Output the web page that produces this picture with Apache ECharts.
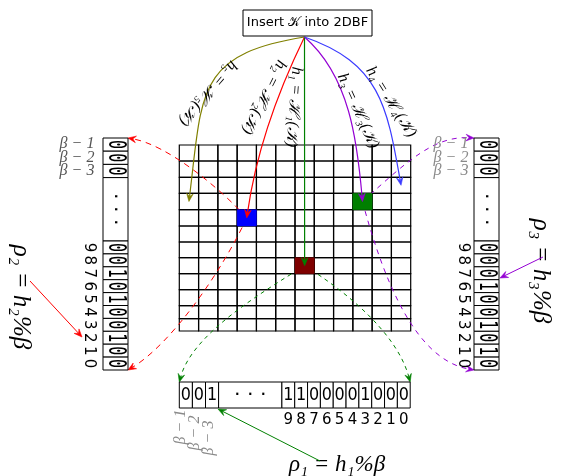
<!DOCTYPE html>
<html><head><meta charset="utf-8">
<script src="https://cdn.jsdelivr.net/npm/echarts@6.0.0/dist/echarts.min.js"></script>
<style>html,body{margin:0;padding:0;background:#fff;}#chart{width:561px;height:476px;}</style>
</head><body><div id="chart"></div>
<script>
// ---------------- DATA ----------------
const titleText = 'Insert 𝒦 into 2DBF';
const matrixCols = 12;
const matrixRows = 12;
const hashLabels = ['h₅ = ℋ₅(𝒦)', 'h₂ = ℋ₂(𝒦)', 'h₁ = ℋ₁(𝒦)', 'h₃ = ℋ₃(𝒦)', 'h₄ = ℋ₄(𝒦)'];
const hashTargetCells = [[0, 3], [3, 4], [6, 7], [9, 3], [11, 2]];   // [col,row]
const setCells = [[3, 4], [9, 3], [6, 7]];                              // [col,row]
const leftHeadBits = [0, 0, 0];
const leftBits = [0, 0, 1, 0, 1, 0, 0, 1, 0, 0];
const rightHeadBits = [0, 0, 0];
const rightBits = [0, 0, 0, 1, 0, 0, 1, 0, 1, 0];
const bottomHeadBits = [0, 0, 1];
const bottomBits = [1, 1, 0, 0, 0, 0, 1, 0, 0, 0];
const bitIndexLabels = ['9', '8', '7', '6', '5', '4', '3', '2', '1', '0'];
const betaLabels = ['β − 1', 'β − 2', 'β − 3'];
const rhoLabels = ['ρ₂ = h₂%β', 'ρ₃ = h₃%β', 'ρ₁ = h₁%β'];
const links = [[0, 'left', 0], [0, 'left', 1], [1, 'right', 0], [1, 'right', 1], [2, 'bottom', 0], [2, 'bottom', 1]];

// ---------------- STYLE ----------------
const hashColors = ['#808000', '#ff0000', '#008000', '#9400d3', '#3a3aff'];
const setCellColors = ['#0000ff', '#007f00', '#7f0000'];
const linkColors = ['#ff0000', '#ff0000', '#9400d3', '#9400d3', '#008000', '#008000'];
const linkDash = [[6, 5], [6, 5], [5, 5], [5, 5], [4, 4], [4, 4]];
const rhoColors = ['#ff0000', '#9400d3', '#008000'];
const SERIF = '"Liberation Serif","DejaVu Serif",serif';
const SANS = '"DejaVu Sans",sans-serif';
const MONO = '"DejaVu Sans Mono",monospace';

// ---------------- LAYOUT ----------------
const LAY = {
  box: [243, 10, 372, 36],
  src: [304.5, 37],
  mat: { x0: 179.3, x1: 410.7, rows: [145, 161, 177.3, 193.3, 209.7, 226, 242, 257.7, 273.7, 289.7, 305.7, 318.7, 331] },
  left: { x0: 103, x1: 128, y0: 138, head: 13.2, dots: 63.4, cell: 12.9, idxX: 89, betaX: 77 },
  right: { x0: 474, x1: 499, y0: 138, head: 13.2, dots: 63.4, cell: 12.9, idxX: 463, betaX: 451 },
  bottom: { x0: 179.3, y0: 382, y1: 408, head: 13.1, dots: 63.3, cell: 12.83, idxY: 420 },
  // [outAngle, outLen, inAngle, inLen]
  hash: [[171, 110, 97, 110], [116, 65, 98, 65], [90, 50, 90, 50], [41, 60, 85, 60], [19, 80, 80, 80]],
  hashLabel: [[208, 93, 130.7], [264, 97, 116.6], [294, 107, 94], [358, 111, 65.4], [391, 102, 57.5]],
  link: [[228, 40, 190, 40], [115, 60, 149, 50], [318, 60, 3, 40], [75, 80, 10, 60], [148, 50, 105, 50], [32, 50, 75, 50]],
  betaY: [144, 157.5, 171],
  betaBottom: [[181, 427], [195, 433], [209, 438]],
  rho: [[21, 297, -90, 25], [541, 271, -90, 25], [337, 465, 0, 23]],
  rhoArrow: [[[30, 281], [82, 337]], [[543, 257], [500, 278]], [[320, 461], [218, 409]]]
};

// ---------------- HELPERS ----------------
const colW = (LAY.mat.x1 - LAY.mat.x0) / matrixCols;
function cellCenter(c, r) {
  return [LAY.mat.x0 + (c + 0.5) * colW, (LAY.mat.rows[r] + LAY.mat.rows[r + 1]) / 2];
}
function vSlot(a, s) {
  if (s < 3) return [a.y0 + s * a.head, a.y0 + (s + 1) * a.head];
  if (s === 3) return [a.y0 + 3 * a.head, a.y0 + 3 * a.head + a.dots];
  const b = a.y0 + 3 * a.head + a.dots + (s - 4) * a.cell;
  return [b, b + a.cell];
}
function hSlot(a, s) {
  if (s < 3) return [a.x0 + s * a.head, a.x0 + (s + 1) * a.head];
  if (s === 3) return [a.x0 + 3 * a.head, a.x0 + 3 * a.head + a.dots];
  const b = a.x0 + 3 * a.head + a.dots + (s - 4) * a.cell;
  return [b, b + a.cell];
}
function arrayEnd(name, which) {
  if (name === 'left') { const a = LAY.left; return [a.x1, which ? vSlot(a, 13)[1] : a.y0]; }
  if (name === 'right') { const a = LAY.right; return [a.x0, which ? vSlot(a, 13)[1] : a.y0]; }
  const a = LAY.bottom; return [which ? hSlot(a, 13)[1] : a.x0, a.y0];
}
function arrowHead(tip, ang, color) {
  const len = 8, half = 3.3;
  const ux = Math.cos(ang), uy = Math.sin(ang), nx = -uy, ny = ux;
  return {
    type: 'polygon', shape: { points: [
      [tip[0], tip[1]],
      [tip[0] - len * ux + half * nx, tip[1] - len * uy + half * ny],
      [tip[0] - 0.62 * len * ux, tip[1] - 0.62 * len * uy],
      [tip[0] - len * ux - half * nx, tip[1] - len * uy - half * ny]] },
    style: { fill: color, stroke: color, lineWidth: 0.6 }
  };
}
function curve(p0, prm, p3, color, dash, lw) {
  const r = Math.PI / 180;
  const [a0, l0, a1, l1] = prm;
  const cp1 = [p0[0] + l0 * Math.cos(a0 * r), p0[1] + l0 * Math.sin(a0 * r)];
  const cp2 = [p3[0] - l1 * Math.cos(a1 * r), p3[1] - l1 * Math.sin(a1 * r)];
  const end = [p3[0] - 5 * Math.cos(a1 * r), p3[1] - 5 * Math.sin(a1 * r)];
  return [
    { type: 'bezierCurve', shape: { x1: p0[0], y1: p0[1], cpx1: cp1[0], cpy1: cp1[1], cpx2: cp2[0], cpy2: cp2[1], x2: end[0], y2: end[1] },
      style: { stroke: color, fill: 'none', lineWidth: lw, lineDash: dash } },
    arrowHead(p3, a1 * r, color)
  ];
}
function txt(p, text, font, color, rotDeg, sy) {
  return { type: 'text', x: p[0], y: p[1], rotation: (rotDeg || 0) * Math.PI / 180, scaleY: sy || 1,
    style: { text: text, x: 0, y: 0, align: 'center', verticalAlign: 'middle', font: font, fill: color } };
}

// ---------------- SERIES ----------------
const allCells = [];
for (let r = 0; r < matrixRows; r++) for (let c = 0; c < matrixCols; c++) allCells.push([c, r]);

const series = [];
series.push({ type: 'custom', z: 1, silent: true, data: allCells, renderItem: (p, api) => {
  const c = api.value(0), r = api.value(1);
  const a = api.coord([LAY.mat.x0 + c * colW, LAY.mat.rows[r]]);
  const b = api.coord([LAY.mat.x0 + (c + 1) * colW, LAY.mat.rows[r + 1]]);
  return { type: 'rect', shape: { x: a[0], y: a[1], width: b[0] - a[0], height: b[1] - a[1] },
    style: { fill: 'none', stroke: '#000', lineWidth: 1.2 } };
} });
series.push({ type: 'custom', z: 2, silent: true, data: links.map((l, i) => [i]), renderItem: (p, api) => {
  const i = p.dataIndex, l = links[i];
  const s = setCells[l[0]];
  const p0 = api.coord(cellCenter(s[0], s[1]));
  const p3 = api.coord(arrayEnd(l[1], l[2]));
  return { type: 'group', children: curve(p0, LAY.link[i], p3, linkColors[i], linkDash[i], 1) };
} });
series.push({ type: 'custom', z: 3, silent: true, data: setCells, renderItem: (p, api) => {
  const c = api.value(0), r = api.value(1);
  const a = api.coord([LAY.mat.x0 + c * colW, LAY.mat.rows[r]]);
  const b = api.coord([LAY.mat.x0 + (c + 1) * colW, LAY.mat.rows[r + 1]]);
  return { type: 'rect', shape: { x: a[0], y: a[1], width: b[0] - a[0], height: b[1] - a[1] },
    style: { fill: setCellColors[p.dataIndex], stroke: setCellColors[p.dataIndex], lineWidth: 0.5 } };
} });
series.push({ type: 'custom', z: 4, silent: true, data: hashTargetCells, renderItem: (p, api) => {
  const i = p.dataIndex;
  const p0 = api.coord(LAY.src);
  const p3 = api.coord(cellCenter(api.value(0), api.value(1)));
  return { type: 'group', children: curve(p0, LAY.hash[i], p3, hashColors[i], null, 1.2) };
} });
series.push({ type: 'custom', z: 5, silent: true, data: hashLabels.map((t, i) => [i]), renderItem: (p, api) => {
  const i = p.dataIndex, L = LAY.hashLabel[i];
  return txt(api.coord([L[0], L[1]]), hashLabels[i], 'italic 16px ' + SERIF, '#000', -L[2]);
} });
series.push({ type: 'custom', z: 5, silent: true, data: [[0]], renderItem: (p, api) => {
  const a = api.coord([LAY.box[0], LAY.box[1]]), b = api.coord([LAY.box[2], LAY.box[3]]);
  return { type: 'group', children: [
    { type: 'rect', shape: { x: a[0], y: a[1], width: b[0] - a[0], height: b[1] - a[1] }, style: { fill: '#fff', stroke: '#000', lineWidth: 1 } },
    txt([(a[0] + b[0]) / 2, (a[1] + b[1]) / 2], titleText, '13px ' + SANS, '#000', 0)
  ] };
} });
function vArraySeries(a, headBits, bits) {
  const data = headBits.map((b, i) => [i, b]).concat([[3, -1]]).concat(bits.map((b, i) => [i + 4, b]));
  return { type: 'custom', z: 3, silent: true, data: data, renderItem: (p, api) => {
    const s = api.value(0), v = api.value(1);
    const [y0, y1] = vSlot(a, s);
    const A = api.coord([a.x0, y0]), B = api.coord([a.x1, y1]);
    const ch = [{ type: 'rect', shape: { x: A[0], y: A[1], width: B[0] - A[0], height: B[1] - A[1] }, style: { fill: '#fff', stroke: '#000', lineWidth: 1 } }];
    const c = [(A[0] + B[0]) / 2, (A[1] + B[1]) / 2];
    if (s === 3) ch.push(txt(c, '·  ·  ·', 'bold 12px ' + SANS, '#000', -90));
    else ch.push(txt(c, String(v), '15px ' + MONO, '#000', -90, 1.6));
    return { type: 'group', children: ch };
  } };
}
series.push(vArraySeries(LAY.left, leftHeadBits, leftBits));
series.push(vArraySeries(LAY.right, rightHeadBits, rightBits));
series.push({ type: 'custom', z: 3, silent: true,
  data: bottomHeadBits.map((b, i) => [i, b]).concat([[3, -1]]).concat(bottomBits.map((b, i) => [i + 4, b])),
  renderItem: (p, api) => {
    const a = LAY.bottom, s = api.value(0), v = api.value(1);
    const [x0, x1] = hSlot(a, s);
    const A = api.coord([x0, a.y0]), B = api.coord([x1, a.y1]);
    const ch = [{ type: 'rect', shape: { x: A[0], y: A[1], width: B[0] - A[0], height: B[1] - A[1] }, style: { fill: '#fff', stroke: '#000', lineWidth: 1 } }];
    const c = [(A[0] + B[0]) / 2, (A[1] + B[1]) / 2];
    if (s === 3) ch.push(txt(c, '·  ·  ·', 'bold 12px ' + SANS, '#000', 0));
    else ch.push(txt(c, String(v), '16px ' + SANS, '#000', 0, 1.15));
    return { type: 'group', children: ch };
  } });
function vIndexSeries(a) {
  return { type: 'custom', z: 5, silent: true, data: bitIndexLabels.map((t, i) => [i]), renderItem: (p, api) => {
    const i = p.dataIndex, [y0, y1] = vSlot(a, i + 4);
    return txt(api.coord([a.idxX, (y0 + y1) / 2]), bitIndexLabels[i], '15px ' + SANS, '#000', -90);
  } };
}
series.push(vIndexSeries(LAY.left));
series.push(vIndexSeries(LAY.right));
series.push({ type: 'custom', z: 5, silent: true, data: bitIndexLabels.map((t, i) => [i]), renderItem: (p, api) => {
  const i = p.dataIndex, [x0, x1] = hSlot(LAY.bottom, i + 4);
  return txt(api.coord([(x0 + x1) / 2, LAY.bottom.idxY]), bitIndexLabels[i], '15px ' + SANS, '#000', 0);
} });
series.push({ type: 'custom', z: 5, silent: true, data: betaLabels.map((t, i) => [i]), renderItem: (p, api) => {
  const i = p.dataIndex;
  return { type: 'group', children: [
    txt(api.coord([LAY.left.betaX, LAY.betaY[i]]), betaLabels[i], 'italic 16px ' + SERIF, '#555', 0),
    txt(api.coord([LAY.right.betaX, LAY.betaY[i]]), betaLabels[i], 'italic 16px ' + SERIF, '#8a8a8a', 0),
    txt(api.coord(LAY.betaBottom[i]), betaLabels[i], 'italic 16px ' + SERIF, '#8a8a8a', 90)
  ] };
} });
series.push({ type: 'custom', z: 6, silent: true, data: rhoLabels.map((t, i) => [i]), renderItem: (p, api) => {
  const i = p.dataIndex, R = LAY.rho[i], A = LAY.rhoArrow[i];
  const s = api.coord(A[0]), e = api.coord(A[1]);
  const ang = Math.atan2(e[1] - s[1], e[0] - s[0]);
  const e2 = [e[0] - 5 * Math.cos(ang), e[1] - 5 * Math.sin(ang)];
  return { type: 'group', children: [
    txt(api.coord([R[0], R[1]]), rhoLabels[i], 'italic ' + R[3] + 'px ' + SERIF, '#000', R[2]),
    { type: 'line', shape: { x1: s[0], y1: s[1], x2: e2[0], y2: e2[1] }, style: { stroke: rhoColors[i], lineWidth: 1 } },
    arrowHead(e, ang, rhoColors[i])
  ] };
} });

const chart = echarts.init(document.getElementById('chart'), null, { renderer: 'canvas' });
chart.setOption({
  animation: false,
  grid: { left: 0, right: 0, top: 0, bottom: 0 },
  xAxis: { type: 'value', min: 0, max: 561, show: false },
  yAxis: { type: 'value', min: 0, max: 476, inverse: true, show: false },
  series: series
});
</script>
</body></html>
